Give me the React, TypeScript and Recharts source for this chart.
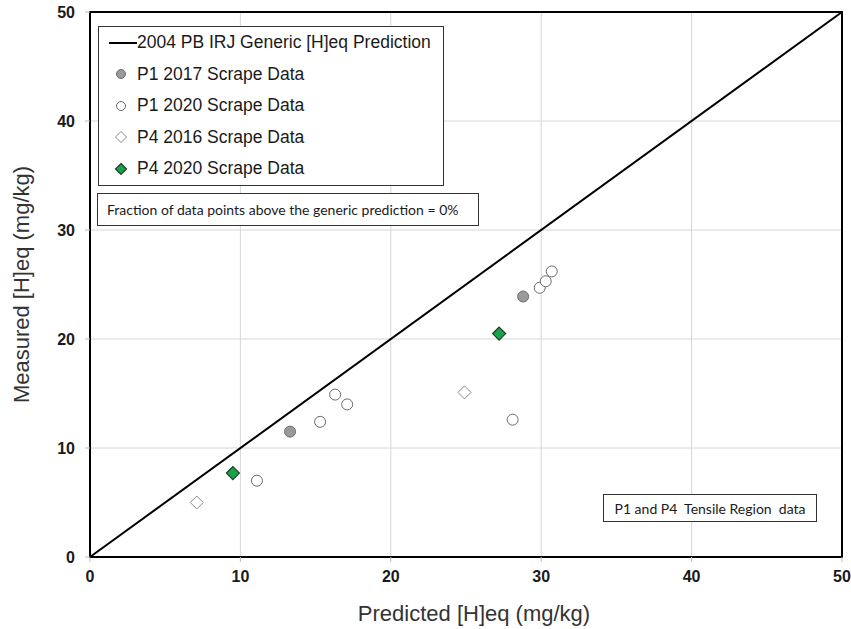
import React from "react";
import {
  ScatterChart, Scatter, XAxis, YAxis, CartesianGrid, Legend, ReferenceArea,
} from "recharts";

// generic prediction line: measured = predicted
const predictionLine = [
  { x: 0, y: 0 },
  { x: 50, y: 50 },
];
const p1Scrape2017 = [
  { x: 13.3, y: 11.5 },
  { x: 28.8, y: 23.9 },
];
const p1Scrape2020 = [
  { x: 11.1, y: 7.0 },
  { x: 15.3, y: 12.4 },
  { x: 16.3, y: 14.9 },
  { x: 17.1, y: 14.0 },
  { x: 28.1, y: 12.6 },
  { x: 29.9, y: 24.7 },
  { x: 30.3, y: 25.3 },
  { x: 30.7, y: 26.2 },
];
const p4Scrape2016 = [
  { x: 7.1, y: 5.0 },
  { x: 24.9, y: 15.1 },
];
const p4Scrape2020 = [
  { x: 9.5, y: 7.7 },
  { x: 27.2, y: 20.5 },
];
const axisTicks = [0, 10, 20, 30, 40, 50];

const legendNames = [
  "2004 PB IRJ Generic [H]eq Prediction",
  "P1 2017 Scrape Data",
  "P1 2020 Scrape Data",
  "P4 2016 Scrape Data",
  "P4 2020 Scrape Data",
];

const fractionNote = "Fraction of data points above the generic prediction = 0%";
const regionNote = "P1 and P4  Tensile Region  data";

const sansFont = "'Liberation Sans', Arial, sans-serif";
const noteFont = "Lato, 'Open Sans', sans-serif";

function marker(kind: number, cx: number, cy: number, s: number) {
  if (kind === 1)
    return <circle cx={cx} cy={cy} r={s} fill="#9a9a9a" stroke="#6e6e6e" strokeWidth={1} />;
  if (kind === 2)
    return <circle cx={cx} cy={cy} r={s} fill="#fff" stroke="#6a6a6a" strokeWidth={1} />;
  const d = s + 1;
  const pts = `${cx},${cy - d} ${cx + d},${cy} ${cx},${cy + d} ${cx - d},${cy}`;
  if (kind === 3)
    return <polygon points={pts} fill="#fff" stroke="#8a8a8a" strokeWidth={1} />;
  return <polygon points={pts} fill="#17a34a" stroke="#1d3b26" strokeWidth={1.2} />;
}

function LegendBox() {
  return (
    <div
      style={{
        width: 346, height: 160, boxSizing: "border-box",
        border: "1.5px solid #333", background: "#fff",
        fontFamily: sansFont, fontSize: 17.5, color: "#1a1a1a",
      }}
    >
      {legendNames.map((name, i) => (
        <div key={name} style={{ height: 31.5, display: "flex", alignItems: "center" }}>
          <svg width={38} height={20} style={{ flex: "none" }}>
            {i === 0
              ? <line x1={10} y1={10} x2={38} y2={10} stroke="#000" strokeWidth={2} />
              : marker(i, 22, 10, 4.5)}
          </svg>
          <span style={{ whiteSpace: "nowrap" }}>{name}</span>
        </div>
      ))}
    </div>
  );
}

export default function App() {
  const tickStyle = { fontFamily: sansFont, fontWeight: 700, fontSize: 16, fill: "#1a1a1a" };
  const titleStyle = { fontFamily: sansFont, fontSize: 22, fill: "#333" };
  return (
    <div style={{ position: "relative", width: 851, height: 629, background: "#fff" }}>
      <style>{"body{margin:0}"}</style>
      <ScatterChart width={851} height={629} margin={{ top: 12, right: 9, bottom: 7, left: 0 }}>
        <CartesianGrid stroke="#d6d6d6" strokeWidth={1} />
        <XAxis
          type="number" dataKey="x" domain={[0, 50]} ticks={axisTicks} height={65}
          tick={tickStyle} tickSize={5} tickMargin={9}
          axisLine={{ stroke: "#000", strokeWidth: 2 }} tickLine={{ stroke: "#bbb" }}
          label={{ value: "Predicted [H]eq (mg/kg)", position: "insideBottom", offset: 1, dx: 8, style: titleStyle }}
        />
        <YAxis
          type="number" dataKey="y" domain={[0, 50]} ticks={axisTicks} width={90}
          tick={tickStyle} tickSize={5} tickMargin={10}
          axisLine={{ stroke: "#000", strokeWidth: 2 }} tickLine={{ stroke: "#bbb" }}
          label={{ value: "Measured [H]eq (mg/kg)", angle: -90, position: "center", dx: -24, style: titleStyle }}
        />
        <ReferenceArea x1={0} x2={50} y1={0} y2={50} fill="none" fillOpacity={0} stroke="#000" strokeWidth={2} />
        <Legend
          layout="vertical" align="center" verticalAlign="middle"
          wrapperStyle={{ left: 98, top: 26, width: 346, height: 160 }}
          content={() => <LegendBox />}
        />
        <Scatter
          name={legendNames[0]} data={predictionLine} line={{ stroke: "#000", strokeWidth: 2 }}
          shape={() => <g />} legendType="line" isAnimationActive={false}
        />
        <Scatter name={legendNames[1]} data={p1Scrape2017} shape={(p: any) => marker(1, p.cx, p.cy, 5.5)} isAnimationActive={false} />
        <Scatter name={legendNames[2]} data={p1Scrape2020} shape={(p: any) => marker(2, p.cx, p.cy, 5.5)} isAnimationActive={false} />
        <Scatter name={legendNames[3]} data={p4Scrape2016} shape={(p: any) => marker(3, p.cx, p.cy, 5.5)} isAnimationActive={false} />
        <Scatter name={legendNames[4]} data={p4Scrape2020} shape={(p: any) => marker(4, p.cx, p.cy, 5.5)} isAnimationActive={false} />
      </ScatterChart>
      <div
        style={{
          position: "absolute", left: 97, top: 193, width: 382, height: 33, boxSizing: "border-box",
          border: "1.5px solid #333", background: "#fff", fontFamily: noteFont, fontSize: 14,
          color: "#1a1a1a", display: "flex", alignItems: "center", paddingLeft: 9, whiteSpace: "nowrap",
        }}
      >
        {fractionNote}
      </div>
      <div
        style={{
          position: "absolute", left: 603, top: 494, width: 214, height: 28, boxSizing: "border-box",
          border: "1.5px solid #333", background: "#fff", fontFamily: noteFont, fontSize: 14,
          color: "#1a1a1a", display: "flex", alignItems: "center", justifyContent: "center", whiteSpace: "pre",
        }}
      >
        {regionNote}
      </div>
    </div>
  );
}
